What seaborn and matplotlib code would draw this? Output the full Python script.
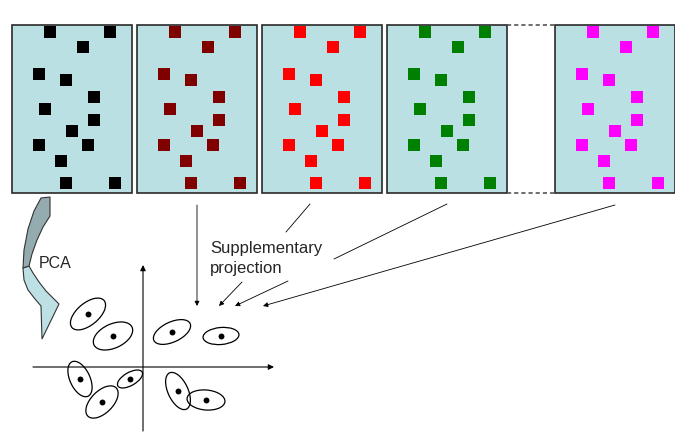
import numpy as np
import pandas as pd
import matplotlib
matplotlib.use("Agg")
import matplotlib.pyplot as plt
from matplotlib.patches import Rectangle, Ellipse, Polygon
import seaborn as sns

# data matrices (one panel per condition), same square layout in each
PANEL_COLORS = ["#000000", "#800000", "#FF0000", "#008000", "#FF00FF"]
PANEL_LEFT = [12, 137, 262, 387, 555]
PANEL_TOP, PANEL_W, PANEL_H = 25, 120, 168
SQUARE_DX = [38, 98, 71, 27, 54, 82, 33, 82, 60, 27, 76, 49, 54, 103]
SQUARE_DY = [7, 7, 22, 49, 55, 72, 84, 95, 106, 120, 120, 136, 158, 158]

# PCA map: ellipses (center, major, minor, tilt in degrees, screen-up positive)
ELL_X = [88, 113, 172, 221, 80, 130, 102, 178, 206]
ELL_Y = [314, 336, 332, 336, 379, 379, 402, 391, 400]
ELL_MAJOR = [42, 42, 40, 36, 38, 28, 40, 40, 38]
ELL_MINOR = [22, 24, 20, 17, 20, 13, 22, 20, 20]
ELL_TILT = [40, 25, 25, 5, -65, 30, 45, -65, -5]

# projection arrows (with heads) and the leader lines above the label
ARROW_START = [(197, 205), (242, 282), (288, 281), (615, 205)]
ARROW_END = [(197, 306), (219, 306), (235, 306), (263, 306)]
LEADER_START = [(310, 204), (447, 204)]
LEADER_END = [(286, 232), (334, 259)]

# curved "PCA" block arrow outline
PCA_DARK = [(41, 198), (34, 211), (28, 229), (24, 250), (23, 268), (29, 266),
            (32, 254), (37, 240), (43, 227), (50, 216), (50, 197)]
PCA_LIGHT = [(23, 268), (29, 266), (33, 273), (39, 282), (46, 291), (59, 304),
             (42, 339), (41, 306), (35, 299), (28, 290), (24, 280)]

sns.set_theme(style="white")
plt.rcParams["font.family"] = ["Liberation Sans", "DejaVu Sans"]

fig = plt.figure(figsize=(6.75, 4.36), dpi=100)
ax = fig.add_axes([0, 0, 1, 1])
ax.set_xlim(0, 675)
ax.set_ylim(436, 0)
ax.axis("off")

# panels
for left in PANEL_LEFT:
    ax.add_patch(Rectangle((left, PANEL_TOP), PANEL_W, PANEL_H, facecolor="#BBE0E3",
                           edgecolor="#2a2a2a", lw=1.2, zorder=1))
for yy in (PANEL_TOP, PANEL_TOP + PANEL_H):
    ax.plot([PANEL_LEFT[3] + PANEL_W, PANEL_LEFT[4]], [yy, yy], color="#555555",
            lw=1.2, ls=(0, (2.5, 1.8)), zorder=1)

rows = []
for left, col in zip(PANEL_LEFT, PANEL_COLORS):
    for dx, dy in zip(SQUARE_DX, SQUARE_DY):
        rows.append({"x": left + dx, "y": PANEL_TOP + dy, "panel": col})
squares = pd.DataFrame(rows)
sns.scatterplot(data=squares, x="x", y="y", hue="panel", palette={c: c for c in PANEL_COLORS},
                marker="s", s=78, linewidth=0, legend=False, ax=ax, zorder=3)

# PCA curved arrow
ax.add_patch(Polygon(PCA_LIGHT, closed=True, facecolor="#BCE0E4", edgecolor="#333333", lw=0.8, zorder=2))
ax.add_patch(Polygon(PCA_DARK, closed=True, facecolor="#94ACB0", edgecolor="#333333", lw=0.8, zorder=2))
ax.text(39, 268, "PCA", fontsize=11.5, ha="left", va="baseline")

# factorial map axes
ax.annotate("", xy=(143, 265), xytext=(143, 431),
            arrowprops=dict(arrowstyle="-|>", color="black", lw=0.8, mutation_scale=8, shrinkA=0, shrinkB=0))
ax.annotate("", xy=(274, 367), xytext=(33, 367),
            arrowprops=dict(arrowstyle="-|>", color="black", lw=0.8, mutation_scale=8, shrinkA=0, shrinkB=0))

for x, y, w, h, t in zip(ELL_X, ELL_Y, ELL_MAJOR, ELL_MINOR, ELL_TILT):
    ax.add_patch(Ellipse((x, y), w, h, angle=-t, facecolor="none", edgecolor="black", lw=0.9, zorder=2))
dots = pd.DataFrame({"x": ELL_X, "y": ELL_Y})
sns.scatterplot(data=dots, x="x", y="y", color="black", s=18, linewidth=0, legend=False, ax=ax, zorder=4)

# supplementary projection
for s, e in zip(ARROW_START, ARROW_END):
    ax.annotate("", xy=e, xytext=s,
                arrowprops=dict(arrowstyle="-|>", color="black", lw=0.6, mutation_scale=7, shrinkA=0, shrinkB=0))
for s, e in zip(LEADER_START, LEADER_END):
    ax.plot([s[0], e[0]], [s[1], e[1]], color="black", lw=0.6)
ax.text(210, 253, "Supplementary", fontsize=12, ha="left", va="baseline")
ax.text(210, 273, "projection", fontsize=12, ha="left", va="baseline")

fig.savefig("out.png", dpi=100)
